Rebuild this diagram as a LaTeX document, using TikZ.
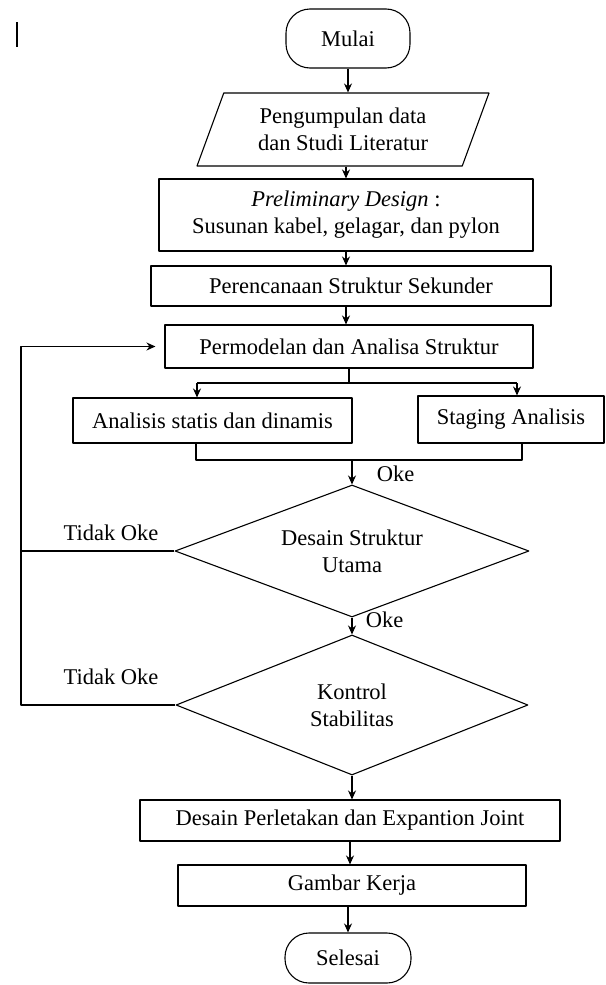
\documentclass[tikz,border=0pt]{standalone}
\usepackage{fontspec}
\setmainfont{Liberation Serif}
\usetikzlibrary{shapes.geometric,arrows.meta}
\begin{document}
\begin{tikzpicture}[x=1pt,y=-1pt,>={Stealth[length=9pt,width=8pt]}, line width=1.1pt, line join=round,
	font=\fontsize{22.5}{27}\selectfont,
	kotak/.style={draw,rectangle,inner sep=0pt,align=center},
	ujung/.style={draw,rectangle,rounded corners=24pt,inner sep=0pt},
	jajar/.style={draw,trapezium,trapezium left angle=58,trapezium right angle=122,trapezium stretches body,inner sep=0pt,align=center},
	belah/.style={draw,diamond,aspect=2.6,inner sep=0pt,align=center}]
	\useasboundingbox (0,0) rectangle (605,985);
	\draw (17,22)--(17,47);
	
	% alur utama
	\node[ujung, minimum width=124, minimum height=59] (mulai) at (348,38.5) {Mulai};
	\node[jajar, minimum width=292, minimum height=73] (data) at (343,129.5) {Pengumpulan data\\dan Studi Literatur};
	\node[kotak, minimum width=374, minimum height=72] (prelim) at (346,215) {\textit{Preliminary Design} :\\Susunan kabel, gelagar, dan pylon};
	\node[kotak, minimum width=400, minimum height=40] (sekunder) at (351,286) {Perencanaan Struktur Sekunder};
	\node[kotak, minimum width=368, minimum height=43] (model) at (349,346.5) {Permodelan dan Analisa Struktur};
	\node[kotak, minimum width=279, minimum height=45] (statis) at (212.5,420.5) {Analisis statis dan dinamis};
	\node[kotak, minimum width=186, minimum height=47] (staging) at (511,419.5) {Staging Analisis};
	\node[belah, minimum width=354, minimum height=132] (desain) at (352,551) {Desain Struktur\\Utama};
	\node[belah, minimum width=352, minimum height=140] (kontrol) at (352,705) {Kontrol\\Stabilitas};
	\node[kotak, minimum width=420, minimum height=41] (perletakan) at (350,820.5) {Desain Perletakan dan Expantion Joint};
	\node[kotak, minimum width=348, minimum height=41] (gambar) at (352,885.5) {Gambar Kerja};
	\node[ujung, minimum width=126, minimum height=50] (selesai) at (348,958) {Selesai};
	
	\node[anchor=west] (oke1) at (373,474) {Oke};
	\node[anchor=west] (oke2) at (362,620) {Oke};
	\node (tidak1) at (111,533) {Tidak Oke};
	\node (tidak2) at (111,677) {Tidak Oke};
	
	\draw[->] (mulai.south)--(mulai.south |- data.north);
	\draw[->] (prelim.north |- data.south)--(prelim.north);
	\draw[->] (prelim.south)--(prelim.south |- sekunder.north);
	\draw[->] (prelim.south |- sekunder.south)--(prelim.south |- model.north);
	
	% cabang analisis
	\coordinate (kiri) at (197,383); \coordinate (kanan) at (517,383);
	\draw (model.south)--(model.south |- kiri);
	\draw (kiri)--(kanan);
	\draw[->] (kiri)--(kiri |- statis.north);
	\draw[->] (kanan)--(kanan |- staging.north);
	\coordinate (gabkiri) at (196,460); \coordinate (gabkanan) at (522,460);
	\draw (gabkiri |- statis.south)--(gabkiri)--(gabkanan)--(gabkanan |- staging.south);
	\draw[->] (desain.north |- gabkiri)--(desain.north);
	
	\draw[->] (desain.south)--(kontrol.north);
	\draw[->] (kontrol.south)--(kontrol.south |- perletakan.north);
	\draw[->] (perletakan.south)--(perletakan.south |- gambar.north);
	\draw[->] (selesai.north |- gambar.south)--(selesai.north);
	
	% umpan balik
	\coordinate (balik) at (21,705);
	\draw (desain.west)--(desain.west -| balik);
	\draw[->] (kontrol.west)--(balik) |- ([xshift=-9pt]model.west);
\end{tikzpicture}
\end{document}
